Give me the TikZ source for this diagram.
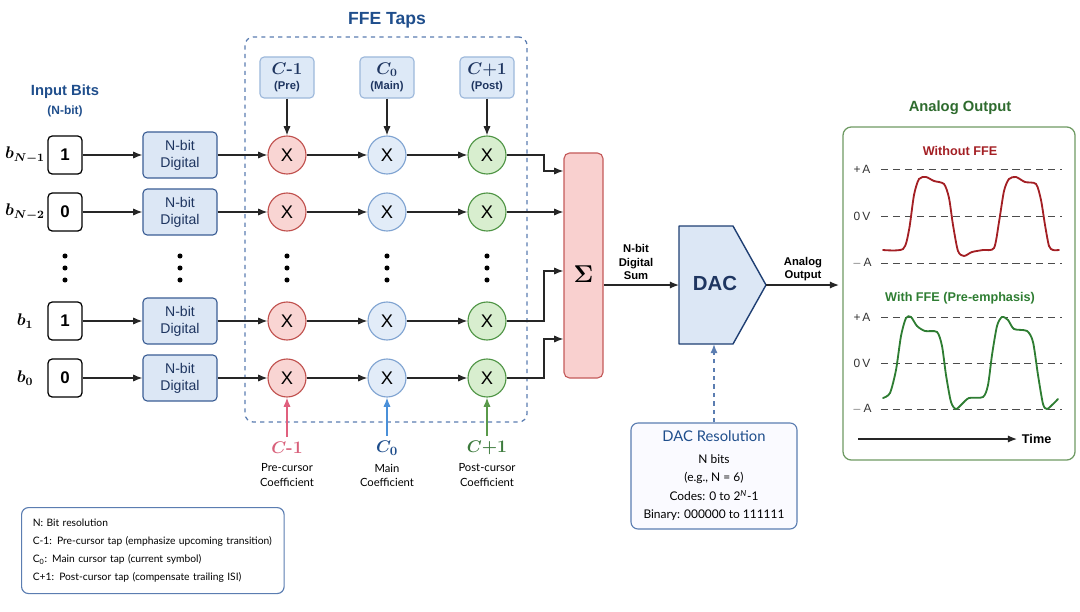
\documentclass[tikz,border=0pt]{standalone}
\usepackage{fontspec}
\setmainfont{Liberation Sans}
\newfontfamily\lato{Lato}
\newfontfamily\lmserif{Latin Modern Roman}
\usetikzlibrary{arrows.meta,calc}

\definecolor{titleblue}{HTML}{1F4E8C}
\definecolor{navy}{HTML}{1E3560}
\definecolor{digfill}{HTML}{DCE7F5}
\definecolor{digline}{HTML}{3B5E95}
\definecolor{coeffill}{HTML}{DDE9F7}
\definecolor{coefline}{HTML}{9DB8DB}
\definecolor{redfill}{HTML}{F9D5D3}
\definecolor{redline}{HTML}{C0504D}
\definecolor{bluefill}{HTML}{E2ECF8}
\definecolor{blueline}{HTML}{7FA3D1}
\definecolor{greenfill}{HTML}{D8EECF}
\definecolor{greenline}{HTML}{4E9444}
\definecolor{sumfill}{HTML}{F9D0CF}
\definecolor{sumline}{HTML}{C45A5A}
\definecolor{dacline}{HTML}{1F3F73}
\definecolor{ffeline}{HTML}{5B7DB1}
\definecolor{panelline}{HTML}{6E9A63}
\definecolor{pinkarr}{HTML}{E0607E}
\definecolor{bluearr}{HTML}{4A90D9}
\definecolor{greenarr}{HTML}{5A9A4A}
\definecolor{pinktext}{HTML}{D8607A}
\definecolor{greentext}{HTML}{3C7A3C}
\definecolor{wavered}{HTML}{A31F24}
\definecolor{wavegreen}{HTML}{2E7D32}
\definecolor{titlegreen}{HTML}{2E6B2E}

\newcommand{\cname}[1]{{\boldmath$C$}{\lmserif\bfseries #1}}

\begin{document}
\begin{tikzpicture}[x=0.025cm,y=-0.025cm,>={Latex[length=2.3mm,width=1.8mm]},
  arr/.style={->,line width=0.9pt,black!85},
  bitlbl/.style={font=\fontsize{12}{14}\selectfont\boldmath},
  bitbox/.style={draw,line width=0.9pt,rounded corners=3pt,fill=white,minimum width=0.85cm,minimum height=0.95cm,font=\fontsize{12}{14}\selectfont\bfseries},
  digbox/.style={draw=digline,fill=digfill,line width=0.8pt,rounded corners=3pt,minimum width=1.85cm,minimum height=1.15cm,align=center,text=navy,font=\fontsize{10}{12}\selectfont},
  coefbox/.style={draw=coefline,fill=coeffill,line width=0.8pt,rounded corners=3pt,minimum width=1.35cm,minimum height=1.025cm,align=center,text=navy},
  tap/.style={circle,line width=0.8pt,minimum size=0.95cm,inner sep=0pt,font=\fontsize{13}{14}\selectfont},
  tapred/.style={tap,draw=redline,fill=redfill},
  tapblue/.style={tap,draw=blueline,fill=bluefill},
  tapgreen/.style={tap,draw=greenline,fill=greenfill},
  dotsym/.style={circle,fill=black,inner sep=0pt,minimum size=3.6pt},
  title/.style={text=titleblue,font=\fontsize{10.5}{12}\selectfont\bfseries},
  small/.style={font=\lato\fontsize{8}{10}\selectfont,align=center},
  sigtxt/.style={font=\fontsize{8}{9.5}\selectfont\bfseries,align=center},
  grid/.style={dash pattern=on 5pt off 3.5pt,line width=0.6pt,black!70},
  axlbl/.style={font=\fontsize{8.5}{9}\selectfont,black!80}]
\useasboundingbox (0,0) rectangle (1080,612);

% titles
\node[title,align=center] (intitle) at (65,101) {Input Bits\\[1pt]{\fontsize{8.5}{10}\selectfont(N-bit)}};
\node[title,font=\fontsize{12.5}{14}\selectfont\bfseries] (ffetitle) at (387,20) {FFE Taps};
\node[draw=ffeline,dashed,line width=0.9pt,rounded corners=6pt,minimum width=7.05cm,minimum height=9.625cm] (ffe) at (386,229.5) {};

% coefficient boxes
\node[coefbox] (k1) at (287,77.5) {{\fontsize{12}{13}\selectfont\cname{-1}}\\[-1pt]{\fontsize{8}{9}\selectfont\bfseries(Pre)}};
\node[coefbox] (k2) at (387,77.5) {{\fontsize{12}{13}\selectfont\boldmath$C_0$}\\[-1pt]{\fontsize{8}{9}\selectfont\bfseries(Main)}};
\node[coefbox] (k3) at (487,77.5) {{\fontsize{12}{13}\selectfont\cname{+1}}\\[-1pt]{\fontsize{8}{9}\selectfont\bfseries(Post)}};

% rows
\foreach \rw/\yy/\blab/\bv in {1/155/{N-1}/1,2/212/{N-2}/0,3/321/1/1,4/378/0/0}{
  \node[bitlbl] (bl\rw) at (25,\yy) {$b_{\blab}$};
  \node[bitbox] (bit\rw) at (65,\yy) {\bv};
  \node[digbox] (dig\rw) at (180,\yy) {N-bit\\Digital};
  \node[tapred] (t1-\rw) at (287,\yy) {X};
  \node[tapblue] (t2-\rw) at (387,\yy) {X};
  \node[tapgreen] (t3-\rw) at (487,\yy) {X};
  \draw[arr] (bit\rw) -- (dig\rw);
  \draw[arr] (dig\rw) -- (t1-\rw);
  \draw[arr] (t1-\rw) -- (t2-\rw);
  \draw[arr] (t2-\rw) -- (t3-\rw);
}
\foreach \xx in {65,180,287,387,487}{
  \foreach \yy in {256,268,280} \node[dotsym] at (\xx,\yy) {};
}
\foreach \cc in {1,2,3} \draw[arr] (k\cc) -- (t\cc-1);

% bottom coefficient labels
\node[text=pinktext,font=\fontsize{12.5}{13}\selectfont] (c1) at (287,448) {\cname{-1}};
\node[text=titleblue,font=\fontsize{12.5}{13}\selectfont\boldmath] (c2) at (387,448) {$C_0$};
\node[text=greentext,font=\fontsize{12.5}{13}\selectfont] (c3) at (487,448) {\cname{+1}};
\node[small] (d1) at (287,475) {Pre-cursor\\Coefficient};
\node[small] (d2) at (387,475) {Main\\Coefficient};
\node[small] (d3) at (487,475) {Post-cursor\\Coefficient};
\draw[arr,pinkarr] (c1) -- (t1-4);
\draw[arr,bluearr] (c2) -- (t2-4);
\draw[arr,greenarr] (c3) -- (t3-4);

% summer
\node[draw=sumline,fill=sumfill,line width=0.8pt,rounded corners=4pt,minimum width=0.975cm,minimum height=5.625cm] (sum) at (583.5,265.5) {};
\node[font=\fontsize{19}{19}\selectfont\boldmath] (sigma) at (583.5,274) {$\Sigma$};
\draw[arr] (t3-1.east) -| (544,171) -- (sum.west |- 0,171);
\draw[arr] (t3-2.east) -- (t3-2.east -| sum.west);
\draw[arr] (t3-3.east) -| (544,271) -- (sum.west |- 0,271);
\draw[arr] (t3-4.east) -| (544,339) -- (sum.west |- 0,339);

% DAC
\coordinate (dacin) at (679,285);
\coordinate (dactip) at (766,285);
\coordinate (dacbot) at (714,344);
\draw[draw=dacline,fill=digfill,line width=1pt,line join=round] (679,226) -- (733,226) -- (dactip) -- (733,344) -- (679,344) -- cycle;
\node[text=navy,font=\fontsize{14.5}{16}\selectfont\bfseries] (dac) at (715,283) {DAC};
\draw[arr] (sum.east |- dacin) -- (dacin);
\node[sigtxt] (sumlbl) at (636,262) {N-bit\\Digital\\Sum};
\coordinate (outend) at (839,285);
\draw[arr] (dactip) -- (outend);
\node[sigtxt] (outlbl) at (803,269) {Analog\\Output};

% DAC resolution
\node[draw=ffeline,fill=blue!2,line width=0.8pt,rounded corners=5pt,minimum width=4.15cm,minimum height=2.65cm,align=center,font=\lato\fontsize{8.5}{13.2}\selectfont] (res) at (714,476)
  {{\fontsize{10.5}{13}\selectfont\color{titleblue}DAC Resolution}\\[2pt]N bits\\(e.g., N = 6)\\Codes: 0 to 2\textsuperscript{\itshape N}-1\\Binary: 000000 to 111111};
\draw[->,dashed,line width=1pt,ffeline] (res.north) -- (dacbot);

% analog output panel
\node[title,text=titlegreen] (antitle) at (960,108) {Analog Output};
\node[draw=panelline,line width=0.9pt,rounded corners=6pt,minimum width=5.8cm,minimum height=8.325cm] (panel) at (959,293.5) {};
\node[text=wavered,font=\fontsize{9}{10}\selectfont\bfseries] (wo) at (960,151) {Without FFE};
\node[text=wavegreen,font=\fontsize{9}{10}\selectfont\bfseries] (wi) at (960,298) {With FFE (Pre-emphasis)};
\foreach \yy/\lab in {169/+\,A,216/0\,V,263/$-$\,A,317/+\,A,363/0\,V,409/$-$\,A}{
  \node[axlbl] at (862,\yy) {\lab};
  \draw[grid] (881,\yy) -- (1062,\yy);
}
\draw[wavered,line width=1.3pt,line cap=round] plot[smooth,tension=0.45] coordinates {(883,250) (903,249) (909,230) (914,195) (919,179) (926,177) (934,181) (944,184) (949,198) (953,225) (958,251) (964,256) (972,252) (983,250) (994,248) (999,222) (1004,191) (1009,179) (1016,177) (1025,182) (1036,184) (1041,200) (1045,225) (1049,246) (1053,250) (1059,250)};
\draw[wavegreen,line width=1.3pt,line cap=round] plot[smooth,tension=0.45] coordinates {(883,398) (890,393) (896,370) (901,336) (906,318) (911,317) (917,326) (925,331) (937,332) (942,346) (946,375) (951,402) (956,409) (962,404) (969,398) (983,397) (988,385) (992,355) (997,326) (1002,317) (1008,320) (1014,329) (1027,331) (1033,342) (1038,375) (1043,404) (1047,409) (1052,405) (1058,399)};
\coordinate (tstart) at (858,439);
\node[font=\fontsize{9}{10}\selectfont\bfseries,anchor=west] (time) at (1017,439) {Time};
\draw[arr] (tstart) -- (time.west);

% legend
\node[draw=ffeline,line width=0.8pt,rounded corners=5pt,anchor=north west,minimum width=6.35cm,minimum height=2.15cm,text width=6cm,align=left,inner xsep=8pt,font=\lato\fontsize{7.3}{12.8}\selectfont] (legend) at (21,507)
  {N: Bit resolution\\C-1: Pre-cursor tap (emphasize upcoming transition)\\C\textsubscript{0}: Main cursor tap (current symbol)\\C+1: Post-cursor tap (compensate trailing ISI)};
\end{tikzpicture}
\end{document}
